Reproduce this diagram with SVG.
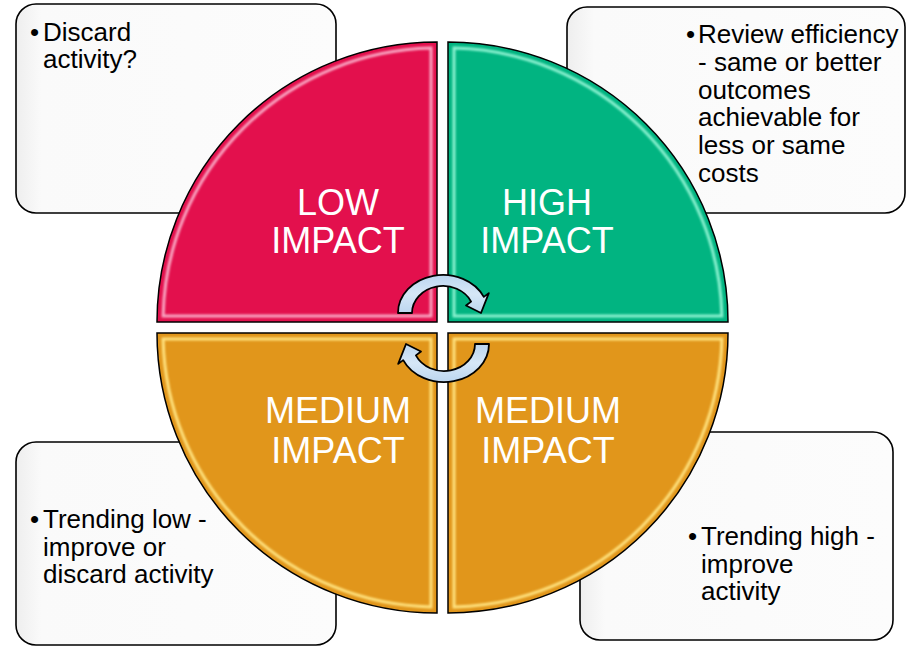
<svg xmlns="http://www.w3.org/2000/svg" width="907" height="647" viewBox="0 0 907 647">
<defs>
<style>
.box{fill:url(#boxg);stroke:#000;stroke-width:1.6}
.btxt{font-family:"Liberation Sans",Arial,sans-serif;font-size:26px;fill:#000}
.qtxt{font-family:"Liberation Sans",Arial,sans-serif;font-size:36px;fill:#fff;text-anchor:middle}
.q{stroke:#000;stroke-width:1.5}
.hl{fill:none;stroke-width:3;filter:url(#soft)}
.arrow{fill:url(#arrg);stroke:#000;stroke-width:1.8;stroke-linejoin:round}
</style>
<linearGradient id="boxg" x1="0" y1="0" x2="1" y2="0">
<stop offset="0" stop-color="#EEEEEE"/>
<stop offset="0.08" stop-color="#FAFAFA"/>
<stop offset="1" stop-color="#FCFCFC"/>
</linearGradient>
<linearGradient id="arrg" x1="0" y1="0" x2="0" y2="1">
<stop offset="0" stop-color="#BCD6EF"/>
<stop offset="0.5" stop-color="#D6E7F7"/>
<stop offset="1" stop-color="#BCD6EF"/>
</linearGradient>
<filter id="soft" x="-5%" y="-5%" width="110%" height="110%">
<feGaussianBlur stdDeviation="1.1"/>
</filter>
</defs>

<g id="box-low">
<rect class="box" x="16" y="4" width="320" height="209" rx="20"/>
<text class="btxt" x="30" y="41">•</text>
<text class="btxt" x="43" y="41">Discard</text>
<text class="btxt" x="43" y="68">activity?</text>
</g>
<g id="box-high">
<rect class="box" x="567" y="7" width="338" height="206" rx="20"/>
<text class="btxt" x="686" y="43">•</text>
<text class="btxt" x="698" y="43">Review efficiency</text>
<text class="btxt" x="698" y="71">- same or better</text>
<text class="btxt" x="698" y="98.5">outcomes</text>
<text class="btxt" x="698" y="126">achievable for</text>
<text class="btxt" x="698" y="154">less or same</text>
<text class="btxt" x="698" y="181.5">costs</text>
</g>
<g id="box-trend-low">
<rect class="box" x="16" y="442" width="320" height="203" rx="20"/>
<text class="btxt" x="30" y="528">•</text>
<text class="btxt" x="43" y="528">Trending low -</text>
<text class="btxt" x="43" y="556">improve or</text>
<text class="btxt" x="43" y="583">discard activity</text>
</g>
<g id="box-trend-high">
<rect class="box" x="580" y="432" width="313" height="208" rx="20"/>
<text class="btxt" x="688" y="545">•</text>
<text class="btxt" x="701" y="545">Trending high -</text>
<text class="btxt" x="701" y="572.5">improve</text>
<text class="btxt" x="701" y="600">activity</text>
</g>

<g id="q-low">
<path class="q" fill="#E3104D" d="M157,322 A280,280 0 0 1 437,42 L437,322 Z"/>
<path class="hl" stroke="#F9A6C2" d="M163.1,316 A274,274 0 0 1 431,48.1 L431,316 Z"/>
<text class="qtxt" x="338" y="215">LOW</text>
<text class="qtxt" x="338" y="253">IMPACT</text>
</g>
<g id="q-high">
<path class="q" fill="#01B481" d="M448,42 A280,280 0 0 1 728,322 L448,322 Z"/>
<path class="hl" stroke="#8AF2D0" d="M454,48.1 A274,274 0 0 1 721.9,316 L454,316 Z"/>
<text class="qtxt" x="547" y="215">HIGH</text>
<text class="qtxt" x="547" y="253">IMPACT</text>
</g>
<g id="q-medium-left">
<path class="q" fill="#E1961B" d="M437,613 A280,280 0 0 1 157,333 L437,333 Z"/>
<path class="hl" stroke="#FFE27E" d="M431,606.9 A274,274 0 0 1 163.1,339 L431,339 Z"/>
<text class="qtxt" x="338" y="423">MEDIUM</text>
<text class="qtxt" x="338" y="463">IMPACT</text>
</g>
<g id="q-medium-right">
<path class="q" fill="#E1961B" d="M728,333 A280,280 0 0 1 448,613 L448,333 Z"/>
<path class="hl" stroke="#FFE27E" d="M721.9,339 A274,274 0 0 1 454,606.9 L454,339 Z"/>
<text class="qtxt" x="548" y="423">MEDIUM</text>
<text class="qtxt" x="548" y="463">IMPACT</text>
</g>

<g id="connectors">
<path id="arrow-top" class="arrow" d="M398,313 A45,38 0 0 1 483.8,296.9 L488.8,293.1 L481,313 L466,305.5 L471.1,301.6 A31,27 0 0 0 412,313 Z"/>
<path id="arrow-bottom" class="arrow" transform="rotate(180 443.5 328.5)" d="M398,313 A45,38 0 0 1 483.8,296.9 L488.8,293.1 L481,313 L466,305.5 L471.1,301.6 A31,27 0 0 0 412,313 Z"/>
</g>
</svg>
